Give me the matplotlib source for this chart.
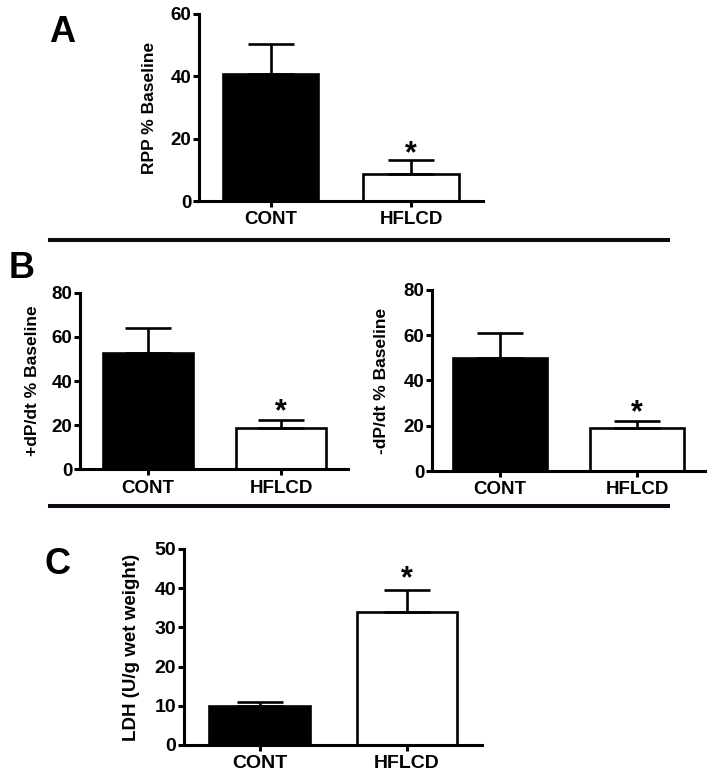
import matplotlib
matplotlib.use('Agg')
import matplotlib.pyplot as plt
from matplotlib.lines import Line2D

plt.rcParams['font.family'] = ['Liberation Sans', 'DejaVu Sans']
plt.rcParams['font.weight'] = 'bold'

groups = ['CONT', 'HFLCD']
bar_colors = ['black', 'white']

# panel A
rpp_mean = [40.8, 8.8]
rpp_sem = [9.5, 4.2]
# panel B
pos_dpdt_mean = [52.6, 18.9]
pos_dpdt_sem = [11.3, 3.4]
neg_dpdt_mean = [50.1, 18.9]
neg_dpdt_sem = [11.0, 3.2]
# panel C
ldh_mean = [9.9, 33.8]
ldh_sem = [1.1, 5.8]

LW = 2.2


def bar_panel(ax, mean, sem, ylabel, ymax, ystep, xlim, label_x, star_off, fs_tick=13.5, fs_lab=12.5):
    x = range(len(groups))
    ax.bar(x, mean, width=0.68, color=bar_colors, edgecolor='black', linewidth=1.9, zorder=2)
    ax.errorbar(x, mean, yerr=[[0] * len(sem), sem], fmt='none', ecolor='black',
                elinewidth=1.9, capsize=16.5, capthick=1.9, zorder=3)
    # significance star on HFLCD
    ax.annotate('*', xy=(1, mean[1] + sem[1]), xytext=(0, star_off), textcoords='offset points',
                ha='center', va='baseline', fontsize=22, fontweight='bold')
    ax.set_xlim(*xlim)
    ax.set_ylim(0, ymax)
    ax.set_yticks(range(0, ymax + 1, ystep))
    ax.set_xticks(list(x))
    ax.set_xticklabels(groups, fontsize=fs_tick, fontweight='bold')
    for t in ax.get_yticklabels():
        t.set_fontsize(fs_tick)
        t.set_fontweight('bold')
    ax.spines['top'].set_visible(False)
    ax.spines['right'].set_visible(False)
    ax.spines['left'].set_linewidth(LW)
    ax.spines['bottom'].set_linewidth(LW)
    ax.tick_params(axis='y', length=4, width=LW, pad=1.5)
    ax.tick_params(axis='x', length=4, width=LW, pad=3.5)
    ax.set_ylabel(ylabel, fontsize=fs_lab, fontweight='bold')
    ax.yaxis.set_label_coords(label_x, 0.5)


fig = plt.figure(figsize=(7.14, 7.77), dpi=100)

axA = fig.add_axes([0.2787, 0.7413, 0.3978, 0.2407])
bar_panel(axA, rpp_mean, rpp_sem, 'RPP % Baseline', 60, 20, (-0.509, 1.512), -0.148, -1)

axB1 = fig.add_axes([0.1120, 0.3958, 0.3754, 0.2275])
bar_panel(axB1, pos_dpdt_mean, pos_dpdt_sem, '+dP/dt % Baseline', 80, 20, (-0.511, 1.504), -0.15, 0)

axB2 = fig.add_axes([0.6050, 0.3938, 0.3824, 0.2330])
bar_panel(axB2, neg_dpdt_mean, neg_dpdt_sem, '-dP/dt % Baseline', 80, 20, (-0.496, 1.496), -0.157, 0)

axC = fig.add_axes([0.2577, 0.0412, 0.4174, 0.2523])
bar_panel(axC, ldh_mean, ldh_sem, 'LDH (U/g wet weight)', 50, 10, (-0.512, 1.508), -0.148, 2,
          fs_tick=14, fs_lab=13.5)

# panel letters
fig.text(62 / 714, 1 - 33 / 777, 'A', fontsize=26, fontweight='bold', ha='center', va='center')
fig.text(22 / 714, 1 - 268 / 777, 'B', fontsize=26, fontweight='bold', ha='center', va='center')
fig.text(58 / 714, 1 - 564 / 777, 'C', fontsize=26, fontweight='bold', ha='center', va='center')

# separator lines
for yy in (239.5, 505.5):
    fig.add_artist(Line2D([50 / 714, 668 / 714], [1 - yy / 777, 1 - yy / 777],
                          color='#0b0b1a', linewidth=2.9, transform=fig.transFigure))

fig.savefig('out.png', dpi=100)
